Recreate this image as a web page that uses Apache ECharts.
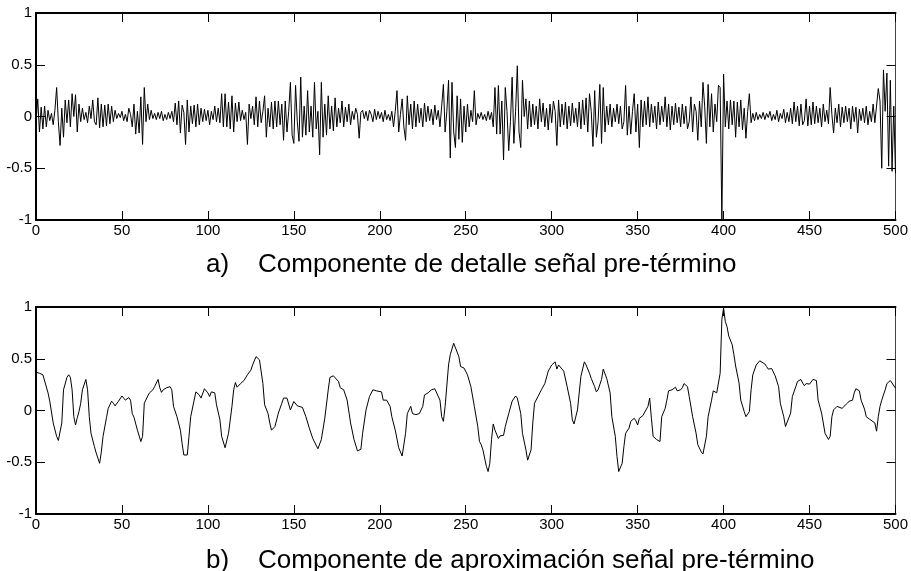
<!DOCTYPE html>
<html>
<head>
<meta charset="utf-8">
<script src="https://cdn.jsdelivr.net/npm/echarts@6/dist/echarts.min.js"></script>
<style>
html,body{margin:0;padding:0;background:#fff;}
#c{width:911px;height:571px;}
</style>
</head>
<body>
<div id="c"></div>
<script>
// ---- Data ----
const titleA = "a)    Componente de detalle señal pre-término";
const titleB = "b)    Componente de aproximación señal pre-término";
const xMin = 0, xMax = 500, xStep = 50;
const yMin = -1, yMax = 1, yStep = 0.5;

// Detail component (sample index = position in array, 0..500)
const detail = [
 -0.05, 0.17, -0.15, 0.09, -0.12, 0.1, -0.1, 0.06, -0.04, 0.03,
 -0.08, 0.06, 0.28, -0.05, -0.28, 0.08, -0.2, 0.16, -0.06, 0.16,
 -0.1, 0.22, 0.0, 0.21, -0.15, 0.12, -0.05, 0.08, -0.03, 0.04,
 -0.06, 0.1, -0.02, 0.16, -0.05, -0.08, 0.18, -0.11, 0.12, -0.1,
 0.11, -0.09, 0.12, -0.07, 0.1, -0.05, 0.06, -0.02, 0.03, -0.01,
 0.05, -0.04, 0.02, -0.05, 0.08, 0.02, -0.1, 0.12, -0.17, 0.05,
 -0.16, 0.19, -0.27, 0.28, -0.05, 0.12, -0.03, 0.06, -0.02, 0.03,
 -0.03, 0.04, -0.02, 0.05, -0.04, 0.02, -0.03, 0.04, -0.02, 0.05,
 -0.05, 0.13, -0.08, 0.15, -0.16, 0.11, 0.04, -0.27, 0.16, -0.15,
 0.1, -0.07, 0.11, -0.1, 0.12, -0.08, 0.08, -0.05, 0.07, -0.04,
 0.06, -0.08, 0.05, -0.03, 0.1, -0.05, 0.08, -0.06, 0.22, -0.1,
 0.22, -0.1, 0.14, -0.12, 0.2, -0.15, 0.13, -0.05, 0.14, -0.04,
 0.06, -0.03, 0.04, -0.27, 0.12, -0.02, 0.1, -0.08, 0.19, -0.1,
 0.15, -0.06, 0.05, 0.2, -0.2, 0.08, -0.1, 0.14, -0.12, 0.15,
 -0.1, 0.15, -0.08, 0.12, -0.23, 0.15, -0.15, 0.05, 0.33, -0.18,
 -0.26, 0.3, -0.05, -0.24, 0.38, -0.2, 0.1, -0.18, 0.25, -0.15,
 0.1, -0.2, 0.33, -0.12, 0.05, -0.37, 0.33, -0.2, 0.12, -0.18,
 0.2, -0.12, 0.1, -0.14, 0.18, -0.1, 0.08, -0.06, 0.15, -0.1,
 0.09, -0.05, 0.12, -0.08, 0.05, -0.03, 0.08, 0.02, -0.21, 0.04,
 0.06, -0.02, 0.05, -0.04, 0.06, 0.02, -0.05, 0.07, -0.03, 0.05,
 -0.02, 0.04, -0.05, 0.06, -0.03, 0.02, -0.04, 0.05, -0.1, 0.05,
 0.25, -0.15, 0.02, 0.17, -0.1, -0.23, 0.2, -0.08, 0.12, -0.12,
 0.15, -0.1, 0.12, -0.06, 0.08, -0.1, 0.13, -0.05, 0.1, -0.04,
 0.07, -0.08, 0.11, -0.03, 0.06, -0.1, 0.1, 0.31, -0.15, 0.05,
 0.35, -0.4, 0.33, -0.15, -0.3, 0.2, -0.22, 0.17, -0.25, 0.1,
 -0.15, 0.12, -0.1, 0.06, -0.05, 0.25, -0.08, 0.03, -0.02, 0.04,
 -0.03, 0.02, -0.04, 0.05, -0.03, 0.04, -0.1, 0.28, -0.17, 0.3,
 -0.17, 0.15, -0.42, 0.28, 0.05, -0.33, -0.05, 0.38, -0.26, 0.05,
 0.49, -0.15, -0.3, 0.35, 0.0, 0.17, -0.12, 0.15, -0.1, 0.12,
 -0.08, 0.1, -0.12, 0.17, -0.05, 0.13, -0.1, 0.08, -0.13, 0.12,
 -0.06, 0.15, 0.05, -0.28, 0.16, -0.1, 0.12, -0.08, 0.14, -0.12,
 0.1, -0.09, 0.13, -0.06, 0.08, -0.1, 0.14, -0.12, 0.16, -0.08,
 0.18, -0.15, 0.22, 0.05, -0.29, 0.25, -0.2, -0.05, 0.31, -0.26,
 0.28, -0.15, 0.1, -0.08, 0.12, -0.1, 0.08, -0.05, 0.12, -0.07,
 0.1, -0.12, -0.05, 0.3, -0.18, 0.1, -0.17, 0.05, 0.22, -0.15,
 0.12, -0.3, 0.16, -0.1, 0.15, -0.08, 0.19, -0.1, 0.12, -0.06,
 0.1, -0.12, 0.14, -0.08, 0.1, -0.05, 0.19, -0.1, 0.12, -0.13,
 0.1, -0.08, 0.13, -0.06, 0.09, -0.1, 0.12, -0.07, 0.1, -0.12,
 -0.05, 0.19, -0.15, 0.12, 0.05, -0.23, 0.15, -0.1, 0.33, 0.1,
 -0.26, 0.31, -0.1, 0.22, -0.15, 0.12, -0.05, 0.3, 0.28, -1.0,
 0.41, -0.1, 0.15, -0.12, 0.16, -0.08, 0.15, -0.2, 0.14, -0.1,
 0.16, -0.13, 0.08, -0.21, 0.05, 0.22, -0.06, 0.03, -0.04, 0.04,
 -0.03, 0.02, -0.02, 0.04, -0.03, 0.03, -0.01, 0.05, -0.04, 0.02,
 -0.03, 0.06, -0.05, 0.03, -0.02, 0.07, -0.06, 0.04, -0.05, 0.08,
 -0.07, 0.14, -0.05, 0.1, -0.09, 0.12, -0.08, -0.04, 0.17, -0.09,
 0.1, -0.08, 0.14, -0.07, 0.1, -0.06, 0.08, -0.1, 0.12, -0.05,
 0.06, -0.07, 0.28, 0.02, -0.16, 0.08, -0.06, 0.12, -0.1, 0.09,
 -0.06, 0.1, -0.05, 0.08, -0.12, 0.1, -0.05, 0.09, -0.16, 0.07,
 -0.04, 0.08, -0.06, 0.1, -0.08, 0.05, -0.05, 0.12, -0.06, -0.05,
 0.27, 0.15, -0.5, 0.45, 0.05, 0.42, -0.48, 0.35, -0.53, 0.1, -0.55
];

// Approximation component: sample indices and values
const approxIdx = [0,2,4,5,7,8,10,12,13,15,16,18,19,20,21,22,23,24,25,26,27,29,30,31,32,34,35,37,38,39,41,42,44,45,46,47,48,50,51,52,54,55,56,57,59,61,62,63,65,66,68,69,71,72,73,74,76,78,79,80,82,84,85,86,88,89,90,92,93,95,96,98,100,101,102,104,105,107,108,110,111,112,114,115,116,117,119,121,123,125,126,128,129,130,132,133,135,136,137,139,141,143,144,146,147,148,149,150,152,153,155,157,159,161,164,166,168,170,171,173,174,176,177,179,181,183,185,187,189,190,192,194,196,198,199,201,202,204,206,207,209,211,213,215,216,218,219,221,223,225,226,228,230,232,233,235,236,237,238,240,241,243,244,246,247,249,251,253,255,257,258,259,260,262,263,264,265,266,267,269,270,272,273,275,277,279,280,282,283,285,286,288,289,290,292,294,296,298,300,302,303,304,305,307,309,311,312,313,315,317,319,320,322,323,325,326,327,329,330,332,334,335,337,338,339,341,342,343,345,346,348,349,350,351,353,354,356,357,358,359,361,363,364,366,367,368,370,372,373,375,376,377,379,380,382,384,385,387,388,390,391,393,394,396,397,398,399,400,401,402,403,405,406,407,409,410,412,413,415,416,417,419,421,422,424,425,426,428,429,430,432,433,435,436,437,439,440,442,443,445,446,447,448,450,451,452,454,455,457,458,459,461,462,463,464,466,467,469,470,472,473,475,476,477,479,480,482,483,485,486,488,489,490,491,492,494,495,497,498,500];
const approxVal = [0.37,0.36,0.345,0.35,0.17,0.09,-0.12,-0.25,-0.29,-0.12,0.2,0.32,0.345,0.32,0.2,-0.06,-0.14,-0.07,-0.01,0.07,0.2,0.3,0.2,-0.06,-0.22,-0.35,-0.41,-0.51,-0.4,-0.25,-0.07,0.02,0.09,0.07,0.045,0.05,0.09,0.14,0.13,0.1,0.125,0.1,-0.03,-0.065,-0.19,-0.3,-0.25,0.07,0.14,0.17,0.2,0.23,0.3,0.22,0.175,0.2,0.22,0.23,0.2,0.04,-0.06,-0.19,-0.32,-0.43,-0.43,-0.25,-0.06,0.1,0.18,0.15,0.12,0.21,0.17,0.135,0.18,0.17,0.055,-0.09,-0.25,-0.36,-0.36,-0.22,0.04,0.2,0.27,0.225,0.26,0.29,0.345,0.39,0.44,0.52,0.52,0.49,0.26,0.055,-0.03,-0.12,-0.19,-0.155,-0.025,0.07,0.12,0.12,0.11,0.005,-0.01,0.087,0.045,0.04,0.03,-0.06,-0.17,-0.27,-0.37,-0.28,-0.075,0.2,0.32,0.335,0.32,0.28,0.22,0.2,0.1,-0.12,-0.28,-0.39,-0.375,-0.22,0.006,0.135,0.2,0.19,0.18,0.18,0.1,0.1,0.04,-0.06,-0.19,-0.36,-0.44,-0.22,-0.03,0.04,-0.03,-0.04,-0.03,0.04,0.15,0.17,0.2,0.21,0.22,0.1,-0.06,-0.105,0.04,0.44,0.54,0.65,0.635,0.52,0.425,0.41,0.345,0.23,0.04,-0.155,-0.3,-0.33,-0.38,-0.54,-0.59,-0.51,-0.28,-0.13,-0.19,-0.27,-0.245,-0.24,-0.155,-0.03,0.09,0.14,0.12,-0.03,-0.22,-0.38,-0.48,-0.38,-0.12,0.07,0.135,0.2,0.26,0.38,0.44,0.47,0.4,0.44,0.45,0.38,0.23,0.07,-0.09,-0.13,0.006,0.33,0.47,0.44,0.36,0.31,0.23,0.18,0.2,0.3,0.4,0.31,0.17,-0.06,-0.25,-0.445,-0.59,-0.51,-0.35,-0.22,-0.17,-0.105,-0.075,-0.1,-0.14,-0.075,-0.05,-0.04,0.04,0.12,-0.075,-0.25,-0.28,-0.3,-0.06,0.02,0.1,0.19,0.2,0.225,0.19,0.2,0.22,0.26,0.23,0.135,-0.06,-0.22,-0.33,-0.4,-0.42,-0.25,-0.06,0.1,0.19,0.17,0.16,0.36,0.88,0.99,0.86,0.81,0.72,0.635,0.54,0.43,0.265,0.1,-0.01,-0.06,-0.01,0.2,0.345,0.44,0.48,0.465,0.45,0.425,0.4,0.405,0.4,0.335,0.23,0.07,-0.06,-0.155,-0.17,-0.025,0.135,0.23,0.28,0.3,0.265,0.24,0.26,0.255,0.27,0.3,0.29,0.1,-0.025,-0.12,-0.22,-0.28,-0.25,-0.06,0.006,0.04,0.04,0.02,0.04,0.07,0.09,0.1,0.17,0.21,0.19,0.1,0.013,-0.06,-0.085,-0.075,-0.12,-0.2,-0.06,0.04,0.1,0.2,0.26,0.29,0.28,0.215];

// ---- Chart ----
const FONT = "'Liberation Sans', Arial, Helvetica, sans-serif";
const GRIDS = [
  {left: 36, top: 13, width: 862, height: 207},
  {left: 36, top: 307, width: 862, height: 207}
];

function xAxes(g) {
  const base = {
    gridIndex: g, type: 'value', min: xMin, max: xMax, interval: xStep,
    splitLine: {show: false},
    axisTick: {show: true, inside: true, length: 9, lineStyle: {color: '#000', width: 1}}
  };
  return [
    Object.assign({}, base, {
      position: 'bottom',
      axisLine: {show: true, onZero: false, lineStyle: {color: '#000', width: 2}},
      axisLabel: {show: true, color: '#000', fontSize: 15, fontFamily: FONT, margin: 3}
    }),
    Object.assign({}, base, {
      position: 'top',
      axisLine: {show: true, onZero: false, lineStyle: {color: '#000', width: 2}},
      axisLabel: {show: false}
    })
  ];
}
function yAxes(g) {
  const base = {
    gridIndex: g, type: 'value', min: yMin, max: yMax, interval: yStep,
    splitLine: {show: false},
    axisTick: {show: true, inside: true, length: 9, lineStyle: {color: '#000', width: 1}}
  };
  return [
    Object.assign({}, base, {
      position: 'left',
      axisLine: {show: true, onZero: false, lineStyle: {color: '#000', width: 2}},
      axisLabel: {show: true, color: '#000', fontSize: 15, fontFamily: FONT, margin: 4}
    }),
    Object.assign({}, base, {
      position: 'right',
      axisLine: {show: true, onZero: false, lineStyle: {color: '#444', width: 1}},
      axisLabel: {show: false}
    })
  ];
}

const detailData = detail.map((v, i) => [i, v]);
const approxData = approxIdx.map((x, k) => [x, approxVal[k]]);

const chart = echarts.init(document.getElementById('c'), null, {renderer: 'canvas'});
chart.setOption({
  animation: false,
  backgroundColor: '#fff',
  title: [
    {text: titleA, left: 201, top: 247,
     textStyle: {fontSize: 26, fontWeight: 'normal', color: '#000', fontFamily: FONT}},
    {text: titleB, left: 201, top: 543,
     textStyle: {fontSize: 26, fontWeight: 'normal', color: '#000', fontFamily: FONT}}
  ],
  grid: GRIDS,
  xAxis: [].concat(xAxes(0), xAxes(1)),
  yAxis: [].concat(yAxes(0), yAxes(1)),
  series: [
    {type: 'line', xAxisIndex: 0, yAxisIndex: 0, data: detailData,
     showSymbol: false, symbol: 'none', clip: true, sampling: null,
     lineStyle: {color: '#000', width: 1}},
    {type: 'line', xAxisIndex: 2, yAxisIndex: 2, data: approxData,
     showSymbol: false, symbol: 'none', clip: true,
     lineStyle: {color: '#000', width: 1}}
  ]
});
</script>
</body>
</html>
